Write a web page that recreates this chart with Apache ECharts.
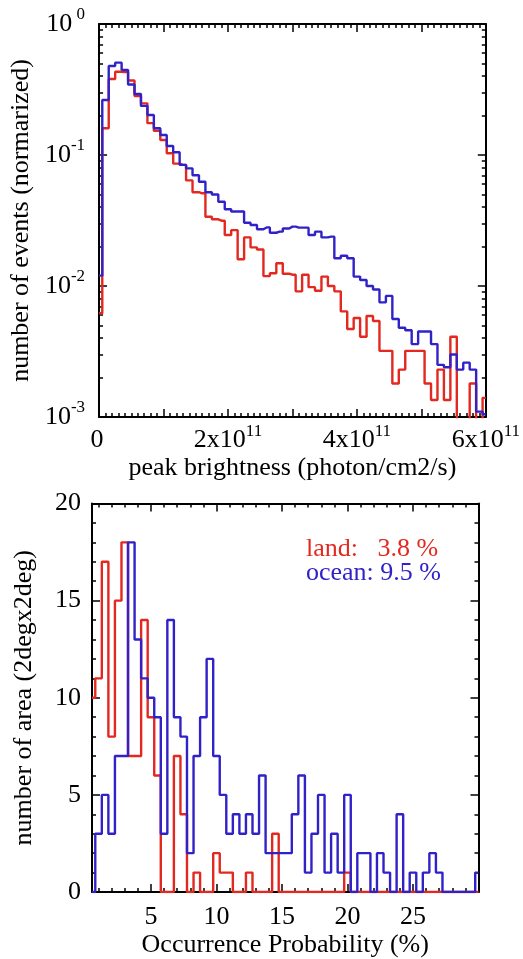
<!DOCTYPE html>
<html>
<head>
<meta charset="utf-8">
<script src="https://cdn.jsdelivr.net/npm/echarts@6/dist/echarts.min.js"></script>
<style>
  html, body { margin: 0; padding: 0; background: #fff; }
  #chart { width: 523px; height: 959px; }
</style>
</head>
<body>
<div id="chart"></div>
<script>
var RED = "#e2281f";
var BLUE = "#3122c8";
var FONT = '"Liberation Serif", "Times New Roman", serif';

// top panel: peak brightness histogram, bin centres in units of 1e10 photon/cm2/s
var brightBinE10 = [0, 1, 2, 3, 4, 5, 6, 7, 8, 9, 10, 11, 12, 13, 14, 15, 16, 17, 18, 19,
  20, 21, 22, 23, 24, 25, 26, 27, 28, 29, 30, 31, 32, 33, 34, 35, 36, 37, 38, 39,
  40, 41, 42, 43, 44, 45, 46, 47, 48, 49, 50, 51, 52, 53, 54, 55, 56, 57, 58, 59, 60];
var landPeak = [0.0062, 0.16, 0.38, 0.432, 0.43, 0.37, 0.282, 0.248, 0.175, 0.153,
  0.130, 0.103, 0.086, 0.084, 0.064, 0.052, 0.051, 0.0338, 0.0323, 0.0315,
  0.0245, 0.0267, 0.016, 0.0235, 0.0197, 0.019, 0.0119, 0.0125, 0.0149, 0.0124,
  0.0122, 0.0091, 0.0122, 0.0098, 0.0092, 0.0118, 0.010, 0.0091, 0.0064, 0.0047,
  0.0057, 0.0041, 0.0059, 0.0054, 0.0032, 0.0032, 0.0018, 0.0023, 0.0032, 0.0032,
  0.0032, 0.0018, 0.00135, 0.0023, 0.00135, 0.0041, 0, 0, 0.0018, 0, 0.0014];
var oceanPeak = [0.012, 0.263, 0.478, 0.507, 0.445, 0.345, 0.292, 0.237, 0.202, 0.160,
  0.142, 0.117, 0.105, 0.084, 0.079, 0.070, 0.0625, 0.052, 0.050, 0.044,
  0.0385, 0.037, 0.037, 0.0304, 0.0292, 0.0271, 0.028, 0.0255, 0.026, 0.0275,
  0.0284, 0.0279, 0.0279, 0.0245, 0.026, 0.0235, 0.0238, 0.0163, 0.017, 0.0163,
  0.0118, 0.0111, 0.010, 0.0094, 0.0075, 0.0084, 0.0056, 0.0048, 0.0046, 0.0036,
  0.0045, 0.0045, 0.0036, 0.0025, 0.0024, 0.0030, 0.0023, 0.0026, 0.0023, 0.0011, 0.00105];
var brightMajor = [0, 1e11, 2e11, 3e11, 4e11, 5e11, 6e11];
var brightLabels = [0, 2e11, 4e11, 6e11];
var logMajor = [0.001, 0.01, 0.1, 1];

// bottom panel: occurrence probability histogram
var probBin = [0.5, 1, 1.5, 2, 2.5, 3, 3.5, 4, 4.5, 5, 5.5, 6, 6.5, 7, 7.5, 8, 8.5, 9, 9.5, 10,
  10.5, 11, 11.5, 12, 12.5, 13, 13.5, 14, 14.5, 15, 15.5, 16, 16.5, 17, 17.5, 18, 18.5, 19, 19.5, 20,
  20.5, 21, 21.5, 22, 22.5, 23, 23.5, 24, 24.5, 25, 25.5, 26, 26.5, 27, 27.5, 28, 28.5, 29, 29.5, 30];
var landProb = [10, 11, 17, 8, 15, 18, 7, 7, 14, 9, 6, 0, 0, 7, 4, 0, 1, 0, 0, 2,
  1, 1, 0, 0, 1, 0, 0, 0, 3, 0, 0, 0, 0, 0, 0, 0, 0, 0, 0, 1,
  0, 0, 0, 0, 0, 0, 0, 0, 0, 0, 0, 0, 0, 0, 0, 0, 0, 0, 0, 0];
var oceanProb = [0, 3, 5, 3, 7, 7, 18, 13, 11, 10, 9, 3, 14, 9, 8, 2, 7, 9, 12, 7,
  5, 3, 4, 3, 4, 3, 6, 2, 2, 2, 2, 4, 6, 1, 3, 5, 1, 3, 1, 5,
  0, 2, 2, 0, 2, 1, 0, 4, 0, 1, 0, 1, 2, 1, 0, 0, 0, 0, 0, 1];
var probLabels = [5, 10, 15, 20, 25];
var countLabels = [0, 5, 10, 15, 20];
var landText = "land:   3.8 %";
var oceanText = "ocean: 9.5 %";

// minor tick positions
function steps(a, b, step) {
  var out = [];
  for (var i = 0; a + i * step <= b + step / 2; i++) out.push(a + i * step);
  return out;
}
var brightMinor = steps(0, 6e11, 1e10);
var logMinor = [];
[0.001, 0.01, 0.1].forEach(function (d) {
  for (var m = 2; m <= 9; m++) logMinor.push(m * d);
});
var probMinor = steps(1, 29, 1);
var countMinor = steps(1, 19, 1);

var black = "#000";
var rich = {
  b: { fontSize: 26, fontFamily: FONT, color: black },
  s: { fontSize: 17, fontFamily: FONT, color: black, padding: [0, 0, 18, 0] }
};

// axis that only draws inside tick marks
function tickAxis(grid, pos, type, min, max, values, len, line) {
  return {
    type: type, gridIndex: grid, position: pos, min: min, max: max,
    axisLine: { show: !!line, onZero: false, lineStyle: { color: black, width: 2 } },
    axisTick: { show: true, inside: true, length: len, customValues: values, lineStyle: { color: black, width: 1.5 } },
    axisLabel: { show: false },
    splitLine: { show: false }
  };
}

function stepSeries(xs, ys, color, xi, yi, floor) {
  return {
    type: "line", step: "middle", xAxisIndex: xi, yAxisIndex: yi,
    symbol: "none", clip: true, animation: false,
    lineStyle: { color: color, width: 2.4 },
    data: xs.map(function (x, i) {
      var y = ys[i];
      if (floor && y <= 0) y = floor; // empty bins fall below the log floor
      return [x, y];
    })
  };
}

var topMain = tickAxis(0, "bottom", "value", 0, 6e11, brightMajor, 8, true);
topMain.axisLabel = {
  show: true, customValues: brightLabels, margin: 6, rich: rich,
  formatter: function (v) {
    if (v === 0) return "{b|0}{s| }";
    return "{b|" + Math.round(v / 1e11) + "x10}{s|11}";
  }
};
topMain.name = "peak brightness (photon/cm2/s)";
topMain.nameLocation = "middle";
topMain.nameGap = 38;
topMain.nameTextStyle = { fontSize: 26, fontFamily: FONT, color: black };

var topY = tickAxis(0, "left", "log", 0.001, 1, logMajor, 8, true);
topY.logBase = 10;
topY.axisLabel = {
  show: true, customValues: logMajor, margin: 14, rich: rich,
  formatter: function (v) {
    var e = Math.round(Math.log(v) / Math.LN10);
    return "{b|10}{s|" + (e === 0 ? " 0" : e) + "}";
  }
};
topY.name = "number of events (normarized)";
topY.nameLocation = "middle";
topY.nameGap = 58;
topY.nameTextStyle = { fontSize: 26, fontFamily: FONT, color: black };

var botMain = tickAxis(1, "bottom", "value", 0.5, 30, probLabels, 8, true);
botMain.axisLabel = {
  show: true, customValues: probLabels, margin: 12,
  fontSize: 26, fontFamily: FONT, color: black
};
botMain.name = "Occurrence Probability (%)";
botMain.nameLocation = "middle";
botMain.nameGap = 40;
botMain.nameTextStyle = { fontSize: 26, fontFamily: FONT, color: black };

var botY = tickAxis(1, "left", "value", 0, 20, countLabels, 8, true);
botY.axisLabel = {
  show: true, customValues: countLabels, margin: 11,
  fontSize: 26, fontFamily: FONT, color: black
};
botY.name = "number of area (2degx2deg)";
botY.nameLocation = "middle";
botY.nameGap = 55;
botY.nameTextStyle = { fontSize: 26, fontFamily: FONT, color: black };

var chart = echarts.init(document.getElementById("chart"));
chart.setOption({
  animation: false,
  backgroundColor: "#fff",
  grid: [
    { left: 97.5, top: 24, width: 391, height: 393 },
    { left: 92, top: 503.5, width: 386.5, height: 389 }
  ],
  xAxis: [
    topMain,
    tickAxis(0, "top", "value", 0, 6e11, brightMajor, 8, true),
    tickAxis(0, "bottom", "value", 0, 6e11, brightMinor, 4),
    tickAxis(0, "top", "value", 0, 6e11, brightMinor, 4),
    botMain,
    tickAxis(1, "top", "value", 0.5, 30, probLabels, 8, true),
    tickAxis(1, "bottom", "value", 0.5, 30, probMinor, 4),
    tickAxis(1, "top", "value", 0.5, 30, probMinor, 4)
  ],
  yAxis: [
    topY,
    Object.assign(tickAxis(0, "right", "log", 0.001, 1, logMajor, 8, true), { logBase: 10 }),
    Object.assign(tickAxis(0, "left", "log", 0.001, 1, logMinor, 4), { logBase: 10 }),
    Object.assign(tickAxis(0, "right", "log", 0.001, 1, logMinor, 4), { logBase: 10 }),
    botY,
    tickAxis(1, "right", "value", 0, 20, countLabels, 8, true),
    tickAxis(1, "left", "value", 0, 20, countMinor, 4),
    tickAxis(1, "right", "value", 0, 20, countMinor, 4)
  ],
  series: [
    stepSeries(brightBinE10.map(function (b) { return b * 1e10; }), landPeak, RED, 0, 0, 1e-4),
    stepSeries(brightBinE10.map(function (b) { return b * 1e10; }), oceanPeak, BLUE, 0, 0, 1e-4),
    stepSeries(probBin, landProb, RED, 4, 4),
    stepSeries(probBin, oceanProb, BLUE, 4, 4)
  ],
  graphic: [
    { type: "text", left: 306, top: 536, style: { text: landText, fill: RED, font: "26px " + FONT } },
    { type: "text", left: 306, top: 560, style: { text: oceanText, fill: BLUE, font: "26px " + FONT } }
  ]
});
</script>
</body>
</html>
